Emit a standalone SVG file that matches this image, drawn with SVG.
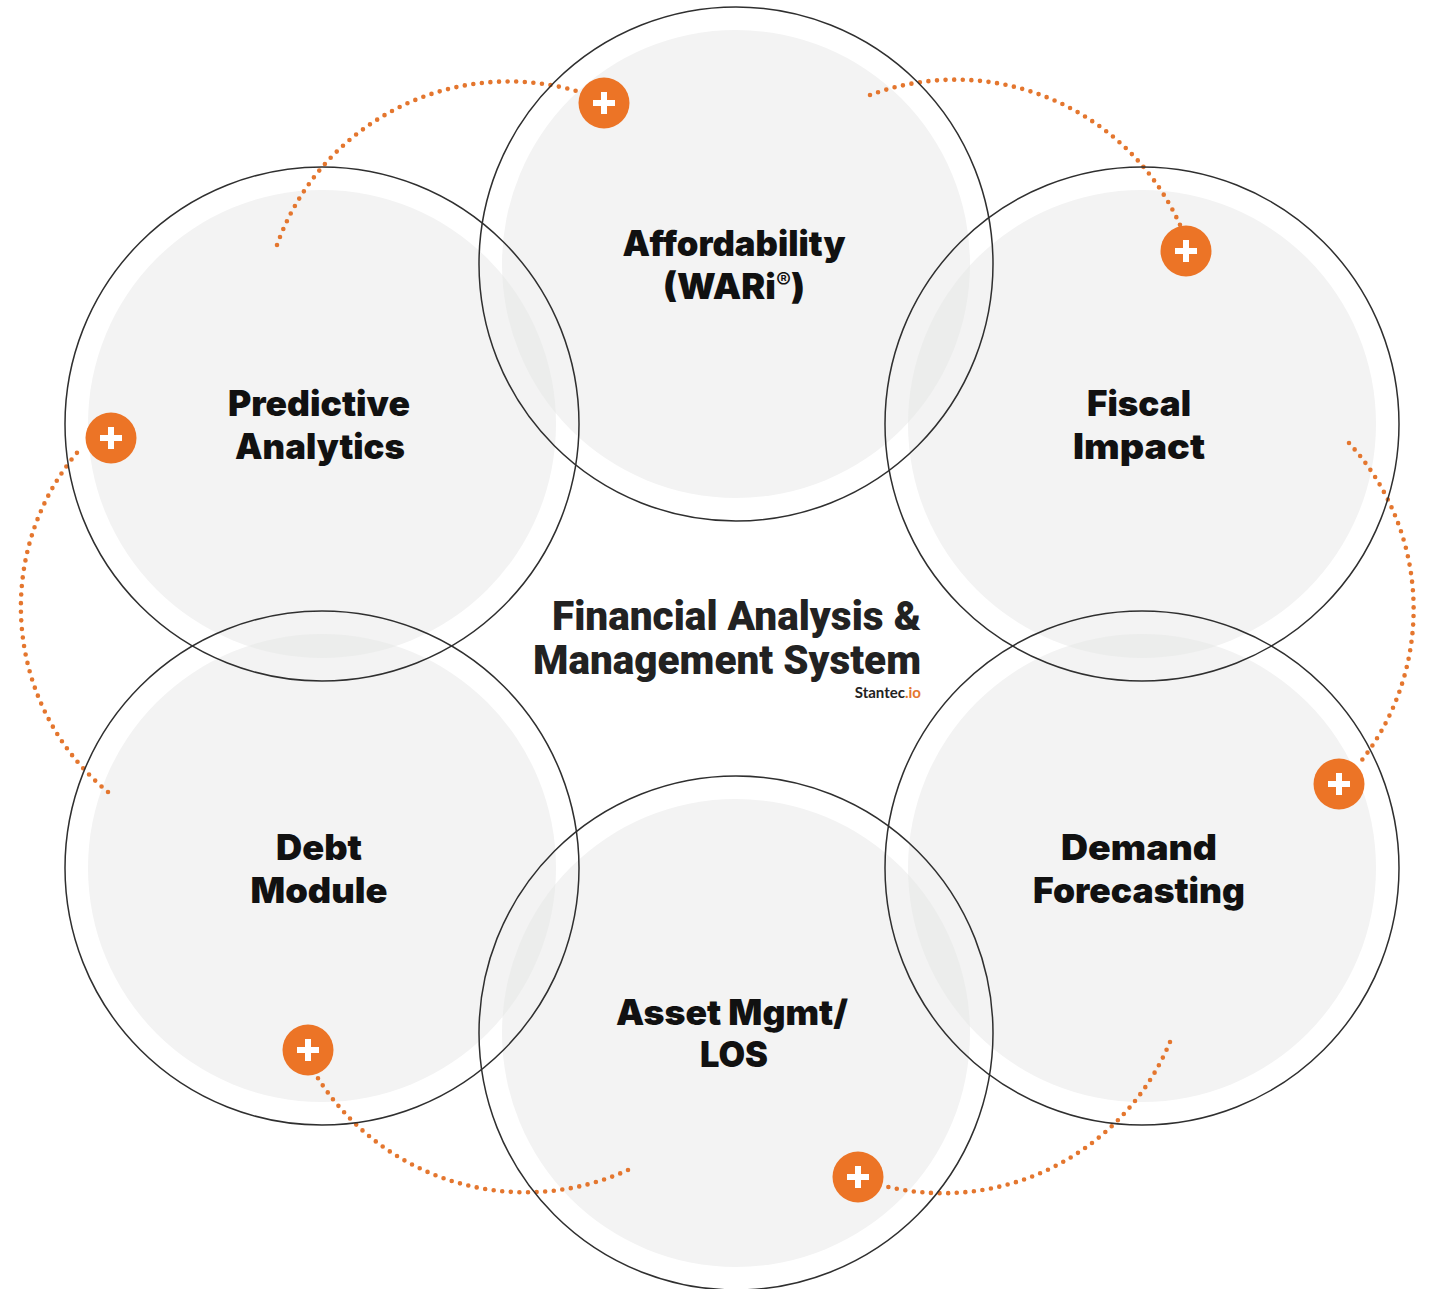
<svg xmlns="http://www.w3.org/2000/svg" width="1432" height="1289" viewBox="0 0 1432 1289">
<style>
.disc{fill:#f3f3f3}
.ring{fill:none;stroke:#2f2f2f;stroke-width:1.5}
.lab{font-family:"Inter","Liberation Sans",sans-serif;font-weight:900;font-size:35px;fill:#111;text-anchor:middle}
.ttl{font-family:"Roboto","Liberation Sans",sans-serif;font-weight:900;font-size:40px;fill:#222;text-anchor:end}
.dot{fill:none;stroke:#e4762e;stroke-width:4.6;stroke-linecap:round;stroke-dasharray:0 8.6}
.btn{fill:#ec7426}
.pl{fill:#fff}
.lens{fill:#ecedec}
</style>
<defs>
<clipPath id="cT"><circle cx="736" cy="264" r="234"/></clipPath>
<clipPath id="cB"><circle cx="736" cy="1033" r="234"/></clipPath>
<clipPath id="cLT"><circle cx="322" cy="424" r="234"/></clipPath>
<clipPath id="cLB"><circle cx="322" cy="868" r="234"/></clipPath>
<clipPath id="cRT"><circle cx="1142" cy="424" r="234"/></clipPath>
<clipPath id="cRB"><circle cx="1142" cy="868" r="234"/></clipPath>
</defs>
<rect width="1432" height="1289" fill="#fff"/>
<g id="discs">
<circle class="disc" cx="736" cy="264" r="234"/>
<circle class="disc" cx="322" cy="424" r="234"/>
<circle class="disc" cx="1142" cy="424" r="234"/>
<circle class="disc" cx="322" cy="868" r="234"/>
<circle class="disc" cx="1142" cy="868" r="234"/>
<circle class="disc" cx="736" cy="1033" r="234"/>
</g>
<g id="overlaps">
<g clip-path="url(#cT)"><circle class="lens" cx="322" cy="424" r="234"/><circle class="lens" cx="1142" cy="424" r="234"/></g>
<g clip-path="url(#cB)"><circle class="lens" cx="322" cy="868" r="234"/><circle class="lens" cx="1142" cy="868" r="234"/></g>
<g clip-path="url(#cLB)"><circle class="lens" cx="322" cy="424" r="234"/></g>
<g clip-path="url(#cRB)"><circle class="lens" cx="1142" cy="424" r="234"/></g>
</g>
<g id="connectors">
<path class="dot" d="M277 245A246 246 0 0 1 580 92"/>
<path class="dot" d="M870 95A246 246 0 0 1 1180 225"/>
<path class="dot" d="M1349 443A246 246 0 0 1 1358 765"/>
<path class="dot" d="M1170 1042A246 246 0 0 1 884 1186"/>
<path class="dot" d="M628 1170A246 246 0 0 1 316 1075"/>
<path class="dot" d="M108 792A240 240 0 0 1 82 447"/>
</g>
<g id="node-affordability">
<circle class="ring" cx="736" cy="264" r="257"/>
<text class="lab" x="734" y="256" textLength="223" lengthAdjust="spacingAndGlyphs">Affordability</text>
<text class="lab" x="734" y="299" textLength="142" lengthAdjust="spacingAndGlyphs">(WARi<tspan font-size="22" font-weight="500" dy="-11">®</tspan><tspan dy="11">)</tspan></text>
<g><circle class="btn" cx="604" cy="103" r="25.5"/><path class="pl" d="M601 92h6v8h8v6h-8v8h-6v-8h-8v-6h8z"/></g>
</g>
<g id="node-fiscal">
<circle class="ring" cx="1142" cy="424" r="257"/>
<text class="lab" x="1139" y="416" textLength="104" lengthAdjust="spacingAndGlyphs">Fiscal</text>
<text class="lab" x="1139" y="459" textLength="132" lengthAdjust="spacingAndGlyphs">Impact</text>
<g><circle class="btn" cx="1186" cy="251" r="25.5"/><path class="pl" d="M1183 240h6v8h8v6h-8v8h-6v-8h-8v-6h8z"/></g>
</g>
<g id="node-demand">
<circle class="ring" cx="1142" cy="868" r="257"/>
<text class="lab" x="1139" y="860" textLength="156" lengthAdjust="spacingAndGlyphs">Demand</text>
<text class="lab" x="1139" y="903" textLength="212" lengthAdjust="spacingAndGlyphs">Forecasting</text>
<g><circle class="btn" cx="1339" cy="784" r="25.5"/><path class="pl" d="M1336 773h6v8h8v6h-8v8h-6v-8h-8v-6h8z"/></g>
</g>
<g id="node-asset">
<circle class="ring" cx="736" cy="1033" r="257"/>
<text class="lab" x="732" y="1025" textLength="232" lengthAdjust="spacingAndGlyphs">Asset Mgmt/</text>
<text class="lab" x="734" y="1067" textLength="68" lengthAdjust="spacingAndGlyphs">LOS</text>
<g><circle class="btn" cx="858" cy="1177" r="25.5"/><path class="pl" d="M855 1166h6v8h8v6h-8v8h-6v-8h-8v-6h8z"/></g>
</g>
<g id="node-debt">
<circle class="ring" cx="322" cy="868" r="257"/>
<text class="lab" x="319" y="860" textLength="86" lengthAdjust="spacingAndGlyphs">Debt</text>
<text class="lab" x="319" y="903" textLength="137" lengthAdjust="spacingAndGlyphs">Module</text>
<g><circle class="btn" cx="308" cy="1050" r="25.5"/><path class="pl" d="M305 1039h6v8h8v6h-8v8h-6v-8h-8v-6h8z"/></g>
</g>
<g id="node-predictive">
<circle class="ring" cx="322" cy="424" r="257"/>
<text class="lab" x="319" y="416" textLength="182" lengthAdjust="spacingAndGlyphs">Predictive</text>
<text class="lab" x="320" y="459" textLength="170" lengthAdjust="spacingAndGlyphs">Analytics</text>
<g><circle class="btn" cx="111" cy="438" r="25.5"/><path class="pl" d="M108 427h6v8h8v6h-8v8h-6v-8h-8v-6h8z"/></g>
</g>
<g id="title">
<text class="ttl" x="921" y="630" textLength="369" lengthAdjust="spacingAndGlyphs">Financial Analysis &amp;</text>
<text class="ttl" x="921" y="674" textLength="388" lengthAdjust="spacingAndGlyphs">Management System</text>
<text x="921" y="698" text-anchor="end" font-family="Lato,'Liberation Sans',sans-serif" font-weight="700" font-size="15" fill="#222">Stantec<tspan fill="#e4762e">.io</tspan></text>
</g>
</svg>
